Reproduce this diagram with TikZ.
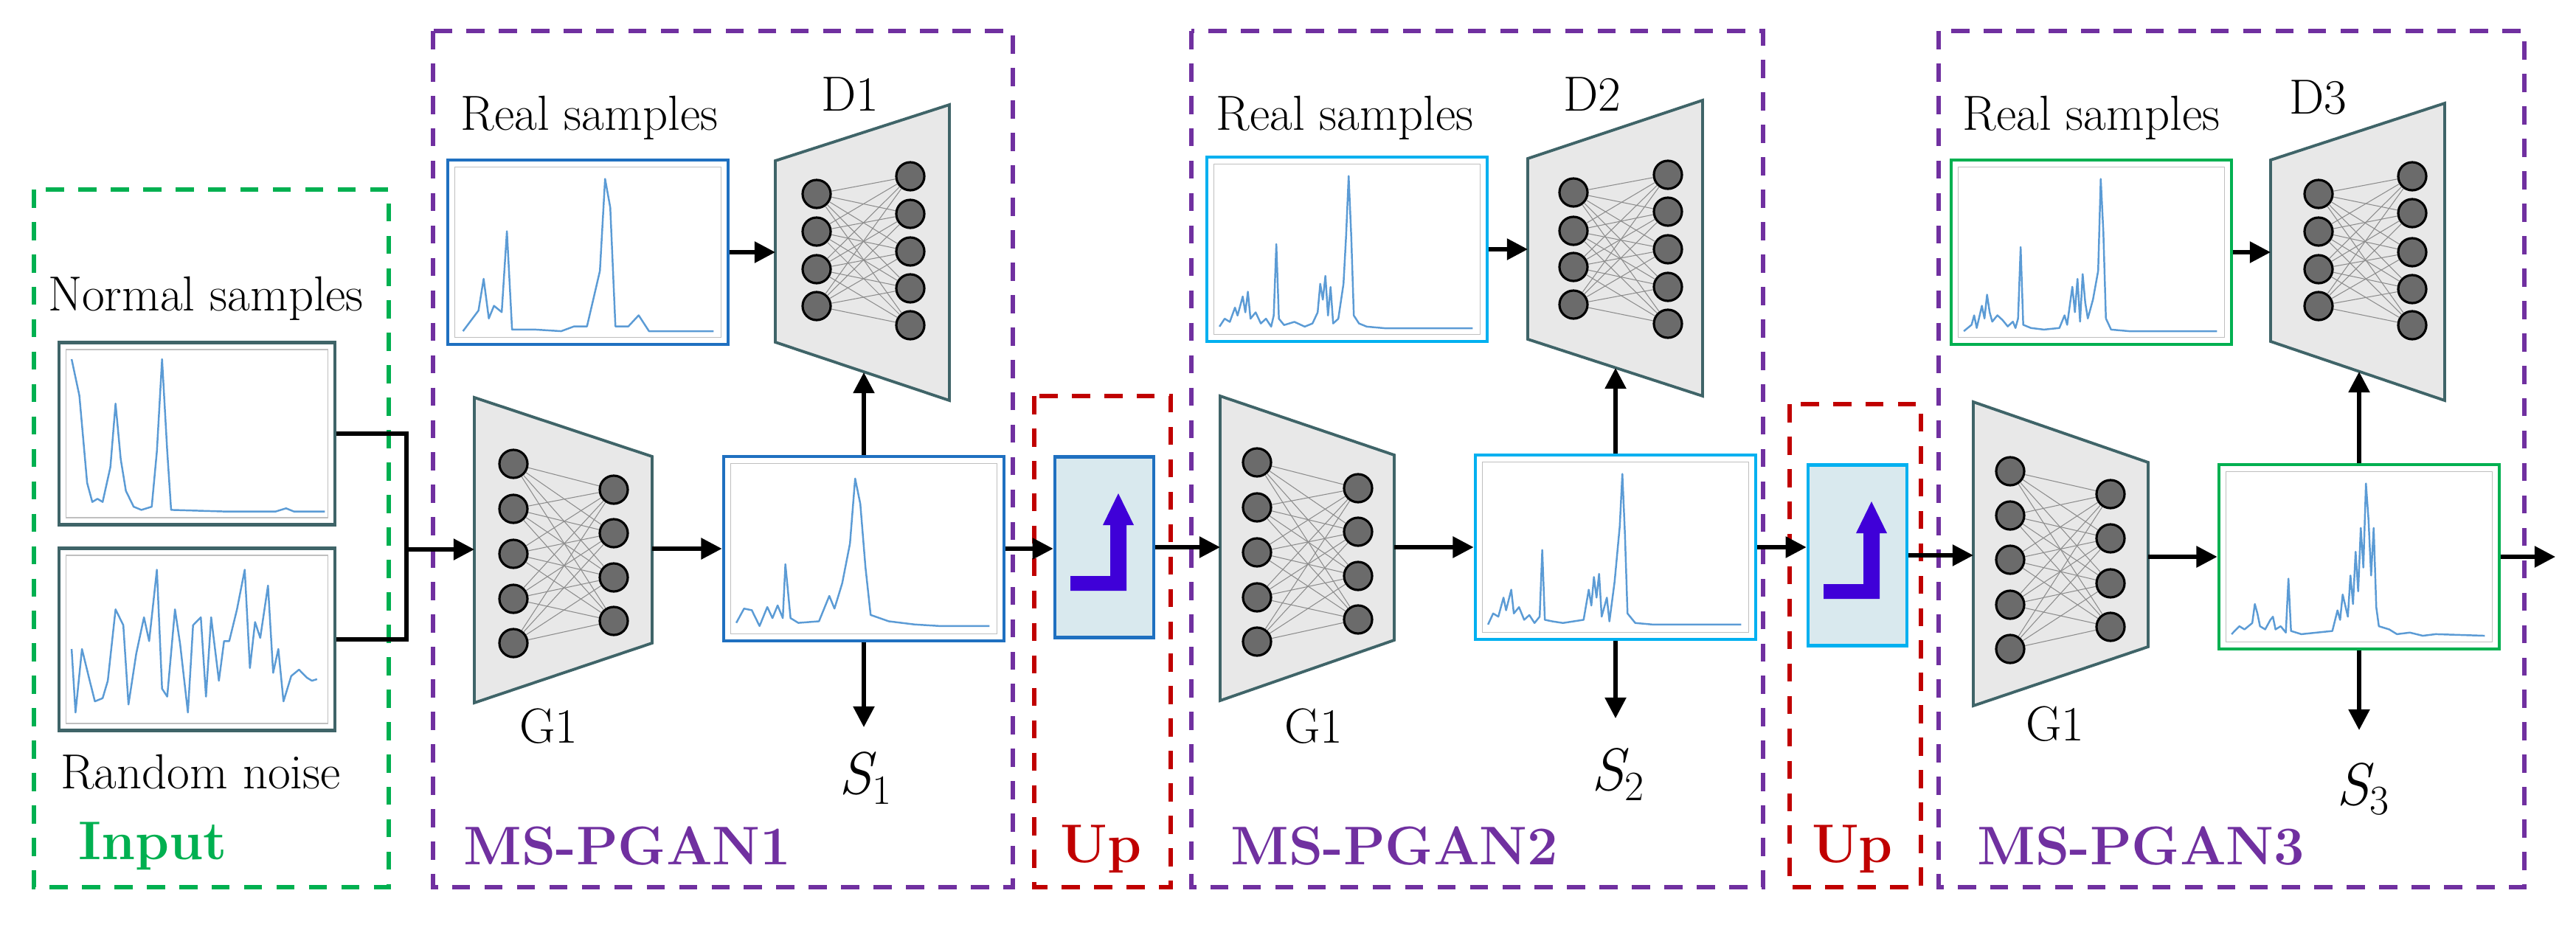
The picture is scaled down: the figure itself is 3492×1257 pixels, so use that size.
\documentclass[tikz,border=0pt]{standalone}
\usepackage{fontspec}
\usetikzlibrary{calc,arrows.meta}
\definecolor{pgreen}{HTML}{00B050}
\definecolor{ppurple}{HTML}{7030A0}
\definecolor{pred}{HTML}{C00000}
\definecolor{pblue}{HTML}{1F70C0}
\definecolor{pcyan}{HTML}{00B0F0}
\definecolor{pteal}{HTML}{3F6468}
\definecolor{psig}{HTML}{5B9BD5}
\definecolor{pupfill}{HTML}{D9E9EE}
\definecolor{parrow}{HTML}{3F00D8}
\tikzset{
  dbox/.style={line width=1.5pt,dash pattern=on 7pt off 5.5pt},
  chartbox/.style={draw,line width=1.3pt,fill=white,minimum width=3.8cm,minimum height=2.5cm,inner sep=0pt},
  upbox/.style={draw,line width=1.3pt,fill=pupfill,minimum width=1.34cm,minimum height=2.45cm,inner sep=0pt},
  frame/.style={draw=black!25,line width=0.4pt},
  sig/.style={draw=psig,line width=0.7pt,line join=round},
  trap/.style={draw=pteal,fill=black!9,line width=1.1pt},
  neuron/.style={circle,draw=black,fill=black!58,line width=0.9pt,minimum size=0.38cm,inner sep=0pt},
  conn/.style={draw=black!45,line width=0.3pt},
  arr/.style={-{Triangle[length=8pt,width=8pt]},line width=1.5pt},
  ln/.style={line width=1.5pt},
  lab/.style={font=\fontsize{19}{21}\selectfont},
  slab/.style={font=\fontsize{23}{25}\selectfont\itshape},
  big/.style={font=\fontsize{21}{24}\selectfont\bfseries,anchor=west}
}
\newcommand\chart[2]{%
  \draw[frame] ($(#1.south west)+(12,-12)$) rectangle ($(#1.north east)+(-12,12)$);
  \begin{scope}[shift={($(#1.south west)+(16,-16)$)},x=0.035cm,y=0.0215cm]
    \draw[sig] plot coordinates {#2};
  \end{scope}}
\newcommand\mynet[6]{%
  \filldraw[trap] #2 -- cycle;
  \foreach \a in {#4}{\node[neuron] (#1l\a) at (#3,\a) {};}
  \foreach \b in {#6}{\node[neuron] (#1r\b) at (#5,\b) {};}
  \foreach \a in {#4}{\foreach \b in {#6}{\draw[conn] (#1l\a) -- (#1r\b);}}}
\newcommand\uparrowicon[1]{%
  \fill[parrow] ($(#1)+(-46,59)$) -- ($(#1)+(30,59)$) -- ($(#1)+(30,-30)$) -- ($(#1)+(40,-30)$)
   -- ($(#1)+(19,-73)$) -- ($(#1)+(-2,-30)$) -- ($(#1)+(8,-30)$) -- ($(#1)+(8,39)$) -- ($(#1)+(-46,39)$) -- cycle;}
\begin{document}
\begin{tikzpicture}[x=0.01cm,y=-0.01cm]
\useasboundingbox (0,0) rectangle (3492,1257);
\draw[dbox,pgreen] (46,257) rectangle (527,1203);
\draw[dbox,ppurple] (587,42) rectangle (1373,1203);
\draw[dbox,pred] (1402,537) rectangle (1587,1203);
\draw[dbox,ppurple] (1615,42) rectangle (2390,1203);
\draw[dbox,pred] (2426,548) rectangle (2604,1203);
\draw[dbox,ppurple] (2628,42) rectangle (3422,1203);
\node[big,text=pgreen] (linput) at (94,1147) {Input};
\node[big,text=ppurple] (lp1) at (616,1147) {MS-PGAN1};
\node[big,text=ppurple] (lp2) at (1656,1147) {MS-PGAN2};
\node[big,text=ppurple] (lp3) at (2668,1147) {MS-PGAN3};
\node[big,anchor=center,text=pred] (lup1) at (1493,1151) {Up};
\node[big,anchor=center,text=pred] (lup2) at (2511,1151) {Up};
\node[lab] (tn) at (279,405) {Normal samples};
\node[lab] (tr) at (272,1047) {Random noise};
\node[lab] (tr1) at (799,160) {Real samples};
\node[lab] (tr2) at (1823,160) {Real samples};
\node[lab] (tr3) at (2835,160) {Real samples};
\node[lab] (td1) at (1152,128) {D1};
\node[lab] (td2) at (2158,128) {D2};
\node[lab] (td3) at (3142,132) {D3};
\node[lab] (tg1) at (744,985) {G1};
\node[lab] (tg2) at (1781,985) {G1};
\node[lab] (tg3) at (2786,982) {G1};
\node[slab] (ts1) at (1174,1055) {S\textsubscript{\upshape 1}};
\node[slab] (ts2) at (2194,1050) {S\textsubscript{\upshape 2}};
\node[slab] (ts3) at (3204,1070) {S\textsubscript{\upshape 3}};
\node[chartbox,draw=pteal,minimum width=3.74cm,minimum height=2.47cm] (in1) at (267,588) {};
\node[chartbox,draw=pteal,minimum width=3.74cm,minimum height=2.47cm] (in2) at (267,867) {};
\node[chartbox,draw=pblue] (r1) at (797,342) {};
\node[chartbox,draw=pblue] (s1) at (1171,744) {};
\node[chartbox,draw=pcyan] (r2) at (1826,338) {};
\node[chartbox,draw=pcyan] (s2) at (2190,742) {};
\node[chartbox,draw=pgreen] (r3) at (2835,342) {};
\node[chartbox,draw=pgreen] (s3) at (3198,755) {};
\chart{in1}{(1,98)(4,75)(7,20)(9,8)(11,10)(13,8)(16,30)(18,70)(20,35)(22,15)(25,5)(28,3)(32,5)(34,40)(36,98)(38,40)(39.5,3)(60,2)(80,2)(84,4)(87,2)(99,2)}
\chart{in2}{(1,45)(2.5,5)(5,45)(8,25)(10,12)(13,14)(15,25)(18,70)(21,60)(23,10)(26,42)(29,65)(31,50)(34,95)(36,20)(38,15)(41,70)(43,48)(46,5)(48,60)(51,65)(53,15)(55,65)(58,25)(60,50)(62,50)(65,70)(68,95)(70,33)(72,62)(74,52)(77,85)(79,30)(81,45)(83,12)(86,28)(89,32)(92,27)(94,25)(96,26)}
\chart{r1}{(2,2)(8,15)(10,35)(12,10)(14,18)(17,14)(19,65)(21,3)(30,3)(40,2)(45,5)(50,5)(55,40)(57,98)(59,80)(61,5)(66,5)(70,12)(74,2)(99,2)}
\chart{s1}{(1,5)(4,14)(7,13)(10,3)(13,15)(15,8)(17,16)(19,8)(20,42)(22,8)(25,5)(33,6)(37,22)(39,14)(42,30)(45,55)(47,96)(49,80)(51,40)(53,10)(60,6)(70,4)(80,3)(99,3)}
\chart{r2}{(1,3)(3,8)(5,6)(7,15)(8,10)(10,22)(11,12)(12,25)(13,8)(15,12)(17,5)(19,8)(21,3)(22,10)(23,55)(24,8)(26,4)(30,6)(34,3)(37,5)(39,12)(40,30)(41,20)(42,35)(43,10)(44,28)(45,5)(47,8)(49,30)(50,60)(51,98)(52,60)(53,10)(55,5)(58,3)(65,2)(99,2)}
\chart{s2}{(1,3)(3,10)(5,8)(7,20)(8,12)(10,25)(11,10)(13,14)(15,6)(17,9)(19,4)(21,8)(22,50)(23,6)(26,5)(30,4)(34,5)(38,6)(40,25)(41,15)(42,33)(43,20)(44,35)(45,8)(47,20)(48,5)(50,30)(52,65)(53,98)(54,60)(55,10)(58,4)(65,3)(99,3)}
\chart{r3}{(1,2)(4,6)(5,12)(6,4)(8,18)(9,10)(10,25)(11,14)(12,8)(14,12)(16,9)(18,5)(20,8)(21,4)(22,10)(23,55)(24,6)(27,4)(32,3)(38,4)(40,12)(41,6)(43,30)(44,14)(45,35)(46,8)(47,38)(48,20)(49,10)(51,22)(53,40)(54,98)(55,65)(56,10)(58,3)(65,2)(99,2)}
\chart{s3}{(1,3)(4,8)(6,6)(9,10)(10,22)(11,16)(12,8)(14,6)(16,12)(17,14)(18,6)(20,8)(22,4)(23,38)(24,5)(28,3)(34,4)(40,5)(42,18)(43,12)(44,28)(46,14)(47,40)(48,22)(49,55)(50,30)(51,70)(52,45)(53,98)(54,75)(55,40)(56,70)(57,20)(58,8)(62,6)(65,3)(70,4)(75,2)(80,3)(99,2)}
\mynet{ga}{(643,539) -- (884,619) -- (884,872) -- (643,953)}{696}{629,690,751,812,872}{832}{664,723,783,842}
\mynet{gb}{(1654,537) -- (1890,617) -- (1890,868) -- (1654,950)}{1704}{627,688,749,810,870}{1841}{662,721,781,840}
\mynet{gc}{(2675,545) -- (2912,627) -- (2912,877) -- (2675,957)}{2725}{639,699,759,820,880}{2861}{670,730,791,850}
\mynet{da}{(1051,218) -- (1287,142) -- (1287,543) -- (1051,464)}{1107}{263,314,365,415}{1234}{239,290,341,391,441}
\mynet{db}{(2071,215) -- (2308,136) -- (2308,537) -- (2071,460)}{2133}{261,313,362,413}{2261}{237,287,338,389,439}
\mynet{dc}{(3078,217) -- (3314,140) -- (3314,543) -- (3078,463)}{3143}{263,314,365,415}{3270}{239,289,342,392,441}
\node[upbox,draw=pblue] (up1) at (1497,742) {};
\node[upbox,draw=pcyan] (up2) at (2518,753) {};
\uparrowicon{up1.center}
\uparrowicon{up2.center}
\coordinate (j) at (551,745);
\coordinate (g1l) at (643,745);
\coordinate (g1r) at (884,744);
\coordinate (g2l) at (1654,744);
\coordinate (g2r) at (1890,742);
\coordinate (g3l) at (2675,754);
\coordinate (g3r) at (2912,755);
\coordinate (d1l) at (1051,342);
\coordinate (d2l) at (2071,338);
\coordinate (d3l) at (3078,342);
\coordinate (d1b) at (1171,505);
\coordinate (d2b) at (2190,499);
\coordinate (d3b) at (3198,504);
\coordinate (o1) at (1171,986);
\coordinate (o2) at (2190,974);
\coordinate (o3) at (3198,990);
\coordinate (out) at (3464,755);
\draw[ln] (in1.east) -| (j);
\draw[ln] (in2.east) -| (j);
\draw[arr] (j) -- (g1l);
\draw[arr] (g1r) -- (s1.west);
\draw[arr] (r1.east) -- (d1l);
\draw[arr] (s1.north) -- (d1b);
\draw[arr] (s1.south) -- (o1);
\draw[arr] (s1.east) -- (s1.east -| up1.west);
\draw[arr] (up1.east) -- (up1.east -| g2l);
\draw[arr] (g2r) -- (g2r -| s2.west);
\draw[arr] (r2.east) -- (d2l);
\draw[arr] (s2.north) -- (d2b);
\draw[arr] (s2.south) -- (o2);
\draw[arr] (s2.east) -- (s2.east -| up2.west);
\draw[arr] (up2.east) -- (up2.east -| g3l);
\draw[arr] (g3r) -- (s3.west);
\draw[arr] (r3.east) -- (d3l);
\draw[arr] (s3.north) -- (d3b);
\draw[arr] (s3.south) -- (o3);
\draw[arr] (s3.east) -- (out);
\end{tikzpicture}
\end{document}
